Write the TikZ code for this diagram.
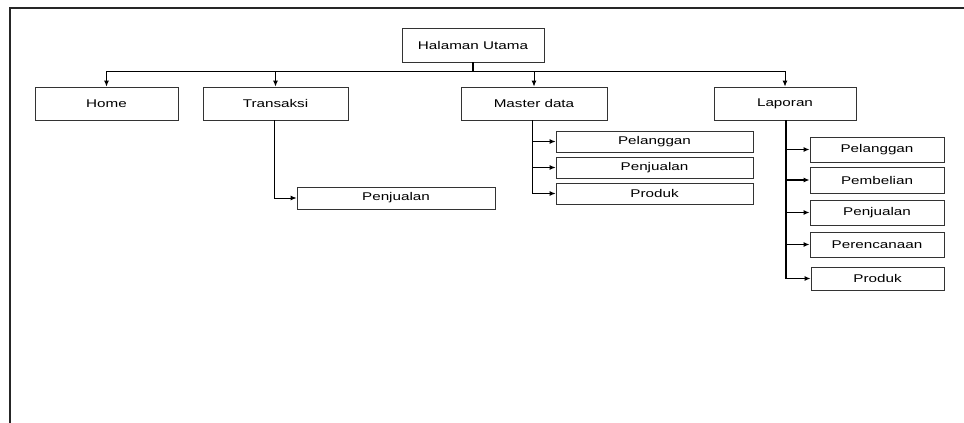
\documentclass[tikz,border=0pt]{standalone}
\usepackage{fontspec}
\setmainfont{Liberation Sans}
\newfontfamily\menufont[FakeStretch=1.36]{Liberation Sans}
\usetikzlibrary{arrows.meta}
\begin{document}
\begin{tikzpicture}[x=1pt,y=-1pt,
  menubox/.style={draw=black!80,line width=0.9pt,minimum width=#1,inner sep=0pt,
    font=\menufont\fontsize{11.2}{13}\selectfont},
  link/.style={line width=0.9pt,-{Latex[length=6pt,width=5pt]}},
  frameline/.style={line width=1.4pt,draw=black!85}]
  \useasboundingbox (0,0) rectangle (964,423);
  % page frame (top and left edges)
  \draw[frameline] (964,8) -- (10,8) -- (10,423);

  % top level
  \node[menubox=142pt,minimum height=34pt] (hu) at (473,45) {Halaman Utama};
  \node[menubox=143pt,minimum height=33pt] (home) at (106.5,103.5) {Home};
  \node[menubox=145pt,minimum height=33pt] (tr) at (275.5,103.5) {Transaksi};
  \node[menubox=146pt,minimum height=33pt] (md) at (534,103.5) {Master data};
  \node[menubox=142pt,minimum height=33pt] (lp) at (785,103.5) {Laporan};

  % Transaksi submenu
  \node[menubox=198pt,minimum height=22pt] (tp) at (396,198) {Penjualan};

  % Master data submenu
  \node[menubox=197pt,minimum height=21pt] (mp1) at (654.5,141.5) {Pelanggan};
  \node[menubox=197pt,minimum height=21pt] (mp2) at (654.5,167.5) {Penjualan};
  \node[menubox=197pt,minimum height=21pt] (mp3) at (654.5,193.5) {Produk};

  % Laporan submenu
  \node[menubox=134pt,minimum height=25pt] (lp1) at (877,149.5) {Pelanggan};
  \node[menubox=134pt,minimum height=26pt] (lp2) at (877,180) {Pembelian};
  \node[menubox=134pt,minimum height=25pt] (lp3) at (877,212.5) {Penjualan};
  \node[menubox=134pt,minimum height=25pt] (lp4) at (877,244.5) {Perencanaan};
  \node[menubox=133pt,minimum height=23pt] (lp5) at (877.5,278.5) {Produk};

  % bus below the main page
  \coordinate (bus) at (0,71);
  \draw[line width=1.2pt] (hu.south) -- (hu.south |- bus);
  \foreach \c in {home,tr,md,lp}
    \draw[link] (hu.south) -- (hu.south |- bus) -| (\c.north);

  % submenu connectors
  \draw[link] ([xshift=-1.5pt]tr.south) |- (tp.west);
  \foreach \c in {mp1,mp2,mp3}
    \draw[link] ([xshift=-1.5pt]md.south) |- (\c.west);
  \foreach \c in {lp1,lp2,lp3,lp4,lp5}
    \draw[link,line width=1.1pt] ([xshift=1pt]lp.south) |- (\c.west);
\end{tikzpicture}
\end{document}
